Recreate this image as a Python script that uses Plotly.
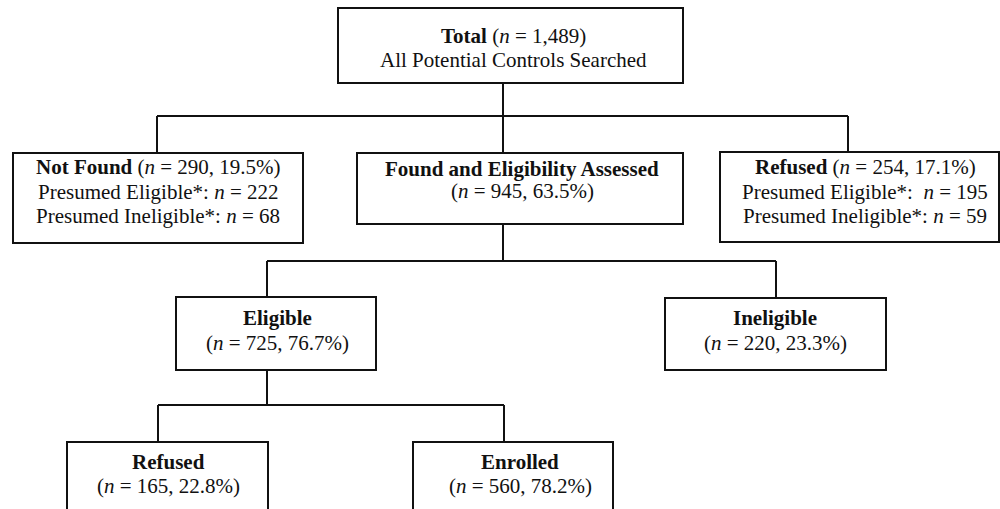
import plotly.graph_objects as go

# ---------------- data ----------------
node_titles = ["Total", "Not Found", "Found and Eligibility Assessed", "Refused",
               "Eligible", "Ineligible", "Refused", "Enrolled"]
node_n = [1489, 290, 945, 254, 725, 220, 165, 560]
node_pct = [None, 19.5, 63.5, 17.1, 76.7, 23.3, 22.8, 78.2]
presumed_eligible = [None, 222, None, 195, None, None, None, None]
presumed_ineligible = [None, 68, None, 59, None, None, None, None]
total_subtitle = "All Potential Controls Searched"
# tree: parent index -> child indices
tree_edges = {0: [1, 2, 3], 2: [4, 5], 4: [6, 7]}

# ---------------- layout geometry (pixel space) ----------------
box_geom = {  # x0, x1, y0, y1
    0: (338, 683, 8, 83),
    1: (13, 303, 153, 243),
    2: (357, 683, 153, 224),
    3: (720, 999, 152, 242),
    4: (176, 376, 297, 370),
    5: (665, 886, 298, 370),
    6: (67, 268, 442, 540),
    7: (413, 613, 442, 540),
}
# text centre x and line baselines
text_pos = {
    0: (513, [43, 67]),
    1: (158, [174, 199, 223]),
    2: (522, [176, 198]),
    3: (865, [174, 199, 223]),
    4: (277, [325, 350]),
    5: (775, [325, 350]),
    6: (168, [469, 493]),
    7: (520, [469, 493]),
}
# connector geometry: parent stem x, bus y, child drop xs
connectors = {
    0: (503, 116, [157, 503, 848]),
    2: (503, 261, [267, 776]),
    4: (267, 405, [158, 504]),
}

FONT = "Liberation Serif, Times New Roman, serif"
FS = 21
INK = "#111111"
LW = 2


def node_lines(i):
    t, n, p = node_titles[i], node_n[i], node_pct[i]
    ntxt = f"<i>n</i> = {n:,}"
    if i == 0:
        return [f"<b>{t}</b> ({ntxt})", total_subtitle]
    if presumed_eligible[i] is not None:
        sep = "\u00a0" if t == "Refused" else ""
        return [f"<b>{t}</b> ({ntxt}, {p}%)",
                f"Presumed Eligible*: {sep}<i>n</i> = {presumed_eligible[i]}",
                f"Presumed Ineligible*: <i>n</i> = {presumed_ineligible[i]}"]
    return [f"<b>{t}</b>", f"({ntxt}, {p}%)"]


fig = go.Figure()
shapes = []
annotations = []

for i in range(len(node_titles)):
    x0, x1, y0, y1 = box_geom[i]
    shapes.append(dict(type="rect", xref="x", yref="y", x0=x0, x1=x1, y0=y0, y1=y1,
                       line=dict(color=INK, width=LW), fillcolor="rgba(0,0,0,0)"))
    cx, baselines = text_pos[i]
    for line, b in zip(node_lines(i), baselines):
        annotations.append(dict(x=cx, y=b - 0.34 * FS, xref="x", yref="y", text=line,
                                showarrow=False, xanchor="center", yanchor="middle",
                                font=dict(family=FONT, size=FS, color=INK)))

for parent, children in tree_edges.items():
    stem_x, bus_y, drops = connectors[parent]
    py1 = box_geom[parent][3]
    shapes.append(dict(type="line", xref="x", yref="y", x0=stem_x, x1=stem_x,
                       y0=py1, y1=bus_y, line=dict(color=INK, width=LW)))
    shapes.append(dict(type="line", xref="x", yref="y", x0=min(drops), x1=max(drops),
                       y0=bus_y, y1=bus_y, line=dict(color=INK, width=LW)))
    for c, dx in zip(children, drops):
        shapes.append(dict(type="line", xref="x", yref="y", x0=dx, x1=dx,
                           y0=bus_y, y1=box_geom[c][2], line=dict(color=INK, width=LW)))

fig.update_layout(
    width=1000, height=509,
    margin=dict(l=0, r=0, t=0, b=0),
    paper_bgcolor="white", plot_bgcolor="white",
    xaxis=dict(range=[0, 1000], visible=False, fixedrange=True),
    yaxis=dict(range=[509, 0], visible=False, fixedrange=True),
    shapes=shapes, annotations=annotations,
    showlegend=False,
)

fig.write_html("out.html", config={"displayModeBar": False},
               post_script="document.body.style.margin='0';document.body.style.overflow='hidden';")
